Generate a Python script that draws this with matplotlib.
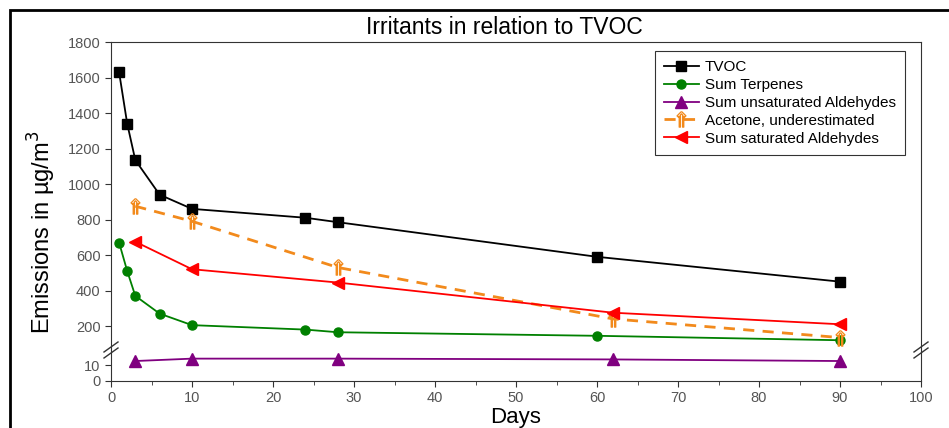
import matplotlib
matplotlib.use('Agg')
import matplotlib.pyplot as plt
from matplotlib.patches import Rectangle
from matplotlib.lines import Line2D

plt.rcParams['font.family'] = ['Liberation Sans', 'DejaVu Sans']

# data
tvoc_days = [1, 2, 3, 6, 10, 24, 28, 60, 90]
tvoc = [1630, 1340, 1135, 940, 860, 810, 785, 590, 450]
terp_days = [1, 2, 3, 6, 10, 24, 28, 60, 90]
terpenes = [670, 510, 370, 270, 205, 180, 165, 145, 120]
ald_days = [3, 10, 28, 62, 90]
unsat_ald = [12.5, 14, 14, 13.5, 12.5]
acetone = [875, 790, 530, 240, 135]
sat_ald = [675, 520, 445, 275, 210]

x_ticks = list(range(0, 101, 10))
y_ticks_top = list(range(200, 1801, 200))
y_ticks_bot = [0, 10]

W, H = 949, 428
fig = plt.figure(figsize=(W / 100, H / 100), dpi=100)
fig.patches.append(Rectangle((10 / W, -0.1), 1.2, 1 - 10 / H + 0.1,
                             transform=fig.transFigure, fill=False,
                             edgecolor='black', linewidth=2))

left, right = 111 / W, 921 / W
top, brk, bot = 1 - 42 / H, 1 - 350 / H, 1 - 381 / H
ax = fig.add_axes([left, brk, right - left, top - brk])
axb = fig.add_axes([left, bot, right - left, brk - bot], sharex=ax)

spine_col = '#333333'
tick_col = '#555555'

for a in (ax, axb):
    for s in a.spines.values():
        s.set_color(spine_col)
    a.tick_params(direction='out', colors=spine_col, labelcolor=tick_col,
                  labelsize=10.5, length=4)
ax.spines['bottom'].set_visible(False)
axb.spines['top'].set_visible(False)
ax.tick_params(axis='x', bottom=False, labelbottom=False)
ax.tick_params(axis='y', right=False)

ax.plot(tvoc_days, tvoc, '-s', color='black', lw=1.3, ms=6.5, label='TVOC')
ax.plot(terp_days, terpenes, '-o', color='green', lw=1.3, ms=6.5,
        label='Sum Terpenes')
axb.plot(ald_days, unsat_ald, '-^', color='purple', lw=1.3, ms=9)
ax.plot([], [], '-^', color='purple', lw=1.3, ms=8,
        label='Sum unsaturated Aldehydes')
ax.plot(ald_days, acetone, '--', color='#f28a1c', lw=2, dashes=(4, 3),
        marker='$\\Uparrow$', ms=11, mfc='none', mew=0.9,
        label='Acetone, underestimated')
ax.plot(ald_days, sat_ald, '-<', color='red', lw=1.3, ms=9,
        label='Sum saturated Aldehydes')

ax.set_xlim(0, 100)
ax.set_ylim(65, 1800)
axb.set_ylim(0, 19.4)
ax.set_yticks(y_ticks_top)
axb.set_yticks(y_ticks_bot)
axb.set_xticks(x_ticks)
axb.set_xticks(range(5, 100, 10), minor=True)
axb.tick_params(axis='x', which='minor', length=3, colors=spine_col)

# break marks
for xf in (left, right):
    for dy in (-3, 3):
        yf = brk + dy / H
        fig.add_artist(Line2D([xf - 7 / W, xf + 7 / W],
                              [yf - 5 / H, yf + 5 / H],
                              color=spine_col, lw=1,
                              transform=fig.transFigure))

fig.text(504 / W, 1 - 28 / H, 'Irritants in relation to TVOC',
         fontsize=16.5, ha='center', va='center')
axb.set_xlabel('Days', fontsize=16, labelpad=1)
fig.text(42 / W, 1 - 232 / H, 'Emissions in \u00b5g/m$^3$', rotation=90,
         fontsize=17, ha='center', va='center')

leg = ax.legend(loc='upper right', fontsize=11, frameon=True, fancybox=False,
                edgecolor='black', handlelength=2.3, handletextpad=0.4,
                borderpad=0.6, labelspacing=0.25,
                bbox_to_anchor=(0.99, 0.995))
leg.get_frame().set_linewidth(0.8)

fig.savefig('out.png', dpi=100)
